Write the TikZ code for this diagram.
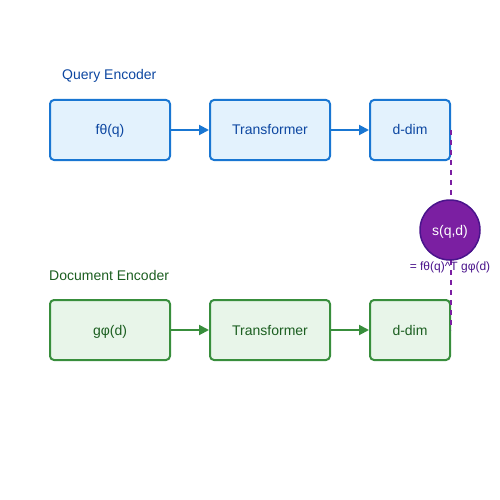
\documentclass[tikz,border=0pt]{standalone}
\usepackage{fontspec}
\setmainfont{Liberation Sans}
\usetikzlibrary{arrows.meta,positioning}
\definecolor{qline}{HTML}{1976D2}
\definecolor{qfill}{HTML}{E3F2FD}
\definecolor{qtext}{HTML}{0D47A1}
\definecolor{dline}{HTML}{388E3C}
\definecolor{dfill}{HTML}{E8F5E9}
\definecolor{dtext}{HTML}{1B5E20}
\definecolor{sfill}{HTML}{7B1FA2}
\definecolor{sline}{HTML}{4A148C}
\tikzset{
  qbox/.style={draw=qline, fill=qfill, text=qtext, line width=2pt, rounded corners=4pt,
    minimum height=60pt, inner sep=0pt, text height=10pt, text depth=0pt,
    font=\fontsize{14}{16}\selectfont},
  dbox/.style={qbox, draw=dline, fill=dfill, text=dtext},
  qarr/.style={draw=qline, fill=qline, line width=2pt, -{Triangle[length=10pt,width=10pt]}},
  darr/.style={qarr, draw=dline, fill=dline},
  title/.style={anchor=base west, inner sep=0pt, font=\fontsize{14}{16}\selectfont},
}
\begin{document}
\begin{tikzpicture}[x=1pt, y=-1pt]
      \useasboundingbox (0,0) rectangle (500,500);
      % query row
      \node[qbox, minimum width=120pt] (qf)  at (110,130) {fθ(q)};
      \node[qbox, minimum width=120pt] (qtr) at (270,130) {Transformer};
      \node[qbox, minimum width=80pt]  (qd)  at (410,130) {d-dim};
      \node[title, text=qtext] (qlab) at (62,80) {Query Encoder};
      % document row
      \node[dbox, minimum width=120pt] (dg)  at (110,330) {gφ(d)};
      \node[dbox, minimum width=120pt] (dtr) at (270,330) {Transformer};
      \node[dbox, minimum width=80pt]  (dd)  at (410,330) {d-dim};
      \node[title, text=dtext] (dlab) at (49,280) {Document Encoder};

      \draw[qarr] (qf) -- (qtr);
      \draw[qarr] (qtr) -- (qd);
      \draw[darr] (dg) -- (dtr);
      \draw[darr] (dtr) -- (dd);

      % similarity
      \draw[sfill, line width=2pt, dash pattern=on 5pt off 5pt] (qd.east) -- (dd.east);
      \node[circle, draw=sline, fill=sfill, line width=1.5pt, minimum size=60pt, inner sep=0pt,
        text=white, text height=10pt, text depth=0pt, font=\fontsize{14}{16}\selectfont] (sim) at (450,230) {s(q,d)};
      \node[anchor=base, text=sline, inner sep=0pt, font=\fontsize{12}{14}\selectfont] (simlab)
        at (450,270) {= fθ(q)\textasciicircum T gφ(d)};
\end{tikzpicture}
\end{document}
